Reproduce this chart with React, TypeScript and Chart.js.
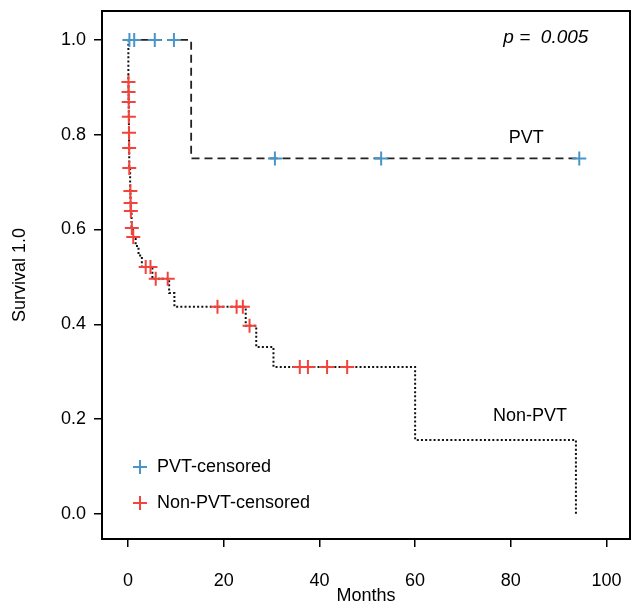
import React, { useEffect, useRef } from "react";
import { Chart, registerables } from "chart.js";

Chart.register(...registerables);

const FONT = '"Liberation Sans", Arial, Helvetica, sans-serif';

const xTicks = [0, 20, 40, 60, 80, 100];
const yTicks = [0, 0.2, 0.4, 0.6, 0.8, 1.0];

// PVT Kaplan-Meier step curve
const pvtTimes = [0, 13.2, 94.3];
const pvtSurv = [1.0, 0.75, 0.75];
const pvtCensorTimes = [0.3, 1.3, 5.6, 9.6, 30.7, 52.9, 94.3];
const pvtCensorSurv = [1, 1, 1, 1, 0.75, 0.75, 0.75];

// Non-PVT Kaplan-Meier step curve
const nonPvtTimes = [0, 0.08, 0.11, 0.14, 0.17, 0.2, 0.23, 0.26, 0.45, 0.52, 0.58, 0.75, 1.0, 1.6, 2.2, 2.9, 5.1, 8.6, 9.7, 24.6, 26.8, 30.4, 60.0, 93.6];
const nonPvtSurv = [1.0, 0.911, 0.89, 0.869, 0.838, 0.804, 0.772, 0.73, 0.681, 0.656, 0.639, 0.603, 0.584, 0.565, 0.545, 0.521, 0.496, 0.466, 0.437, 0.397, 0.352, 0.31, 0.156, 0.0];
const nonPvtCensorTimes = [0.1, 0.12, 0.15, 0.18, 0.21, 0.24, 0.27, 0.5, 0.55, 0.6, 0.8, 1.1, 3.7, 4.7, 5.8, 8.3, 18.7, 22.7, 24.0, 25.4, 35.9, 37.6, 41.6, 45.8];
const nonPvtCensorSurv = [0.911, 0.89, 0.869, 0.838, 0.804, 0.772, 0.73, 0.681, 0.656, 0.639, 0.603, 0.584, 0.521, 0.521, 0.496, 0.496, 0.437, 0.437, 0.437, 0.397, 0.31, 0.31, 0.31, 0.31];

const pValueText = "p =  0.005";
const pValuePos = [96.2, 1.004];
const pvtLabel = "PVT";
const pvtLabelPos = [83.2, 0.793];
const nonPvtLabel = "Non-PVT";
const nonPvtLabelPos = [84.0, 0.207];
const legendLabels = ["PVT-censored", "Non-PVT-censored"];
const xTitle = "Months";
const yTitle = "Survival 1.0";

const BLUE = "#4a94c8";
const RED = "#f2443b";

const toPoints = (xs: number[], ys: number[]) => xs.map((x, i) => ({ x, y: ys[i] }));

const overlayPlugin = {
  id: "overlay",
  afterDraw(chart: any) {
    const { ctx, chartArea, scales } = chart;
    const { left, top, right, bottom } = chartArea;
    ctx.save();
    ctx.strokeStyle = "#000";
    ctx.lineWidth = 2;
    ctx.strokeRect(left, top, right - left, bottom - top);

    ctx.fillStyle = "#000";
    ctx.textBaseline = "middle";
    ctx.font = `italic 19px ${FONT}`;
    ctx.textAlign = "right";
    ctx.fillText(pValueText, scales.x.getPixelForValue(pValuePos[0]), scales.y.getPixelForValue(pValuePos[1]));
    ctx.font = `18px ${FONT}`;
    ctx.textAlign = "center";
    ctx.fillText(pvtLabel, scales.x.getPixelForValue(pvtLabelPos[0]), scales.y.getPixelForValue(pvtLabelPos[1]));
    ctx.fillText(nonPvtLabel, scales.x.getPixelForValue(nonPvtLabelPos[0]), scales.y.getPixelForValue(nonPvtLabelPos[1]));

    const colors = [BLUE, RED];
    legendLabels.forEach((lab, i) => {
      const cy = bottom - 72 + i * 36;
      const cx = left + 38;
      ctx.strokeStyle = colors[i];
      ctx.lineWidth = 2;
      ctx.beginPath();
      ctx.moveTo(cx - 7, cy);
      ctx.lineTo(cx + 7, cy);
      ctx.moveTo(cx, cy - 7);
      ctx.lineTo(cx, cy + 7);
      ctx.stroke();
      ctx.fillStyle = "#000";
      ctx.textAlign = "left";
      ctx.fillText(lab, cx + 17, cy);
    });
    ctx.restore();
  },
};

const zeroPad = (s: any) => {
  s.paddingLeft = 0;
  s.paddingRight = 0;
  s.paddingTop = 0;
  s.paddingBottom = 0;
};

export default function App() {
  const ref = useRef<HTMLCanvasElement | null>(null);
  useEffect(() => {
    document.body.style.margin = "0";
    document.body.style.background = "#fff";
    if (!ref.current) return;
    const chart = new Chart(ref.current, {
      type: "scatter",
      data: {
        datasets: [
          {
            label: "PVT-censored",
            data: toPoints(pvtCensorTimes, pvtCensorSurv),
            showLine: false,
            pointStyle: "cross",
            pointRadius: 7,
            pointHoverRadius: 7,
            pointBorderWidth: 2,
            pointBorderColor: BLUE,
            pointBackgroundColor: BLUE,
            order: 0,
          },
          {
            label: "Non-PVT-censored",
            data: toPoints(nonPvtCensorTimes, nonPvtCensorSurv),
            showLine: false,
            pointStyle: "cross",
            pointRadius: 7,
            pointHoverRadius: 7,
            pointBorderWidth: 2,
            pointBorderColor: RED,
            pointBackgroundColor: RED,
            order: 0,
          },
          {
            label: "PVT",
            data: toPoints(pvtTimes, pvtSurv),
            showLine: true,
            stepped: true,
            borderColor: "#222",
            borderWidth: 1.8,
            borderDash: [8, 5],
            pointRadius: 0,
            fill: false,
            order: 1,
          },
          {
            label: "Non-PVT",
            data: toPoints(nonPvtTimes, nonPvtSurv),
            showLine: true,
            stepped: true,
            borderColor: "#111",
            borderWidth: 2,
            borderDash: [2, 2.2],
            pointRadius: 0,
            fill: false,
            order: 1,
          },
        ],
      },
      options: {
        responsive: false,
        animation: false,
        devicePixelRatio: 1,
        layout: { autoPadding: false, padding: { top: 11, right: 1, left: 0, bottom: 0 } },
        plugins: { legend: { display: false }, tooltip: { enabled: false } },
        events: [],
        scales: {
          x: {
            type: "linear",
            min: -5.43,
            max: 104.9,
            afterBuildTicks: (s: any) => {
              s.ticks = xTicks.map((v) => ({ value: v }));
            },
            afterFit: (s: any) => {
              s.height = 68;
              zeroPad(s);
            },
            grid: { display: true, drawOnChartArea: false, drawTicks: true, tickLength: 8, color: "#000", lineWidth: 1.5 },
            border: { display: false },
            ticks: {
              color: "#000",
              font: { size: 18, family: FONT },
              padding: 23,
              maxRotation: 0,
              autoSkip: false,
              callback: (v: any) => String(v),
            },
            title: { display: true, text: xTitle, color: "#000", font: { size: 18, family: FONT }, padding: { top: 0, bottom: 0 } },
          },
          y: {
            type: "linear",
            min: -0.053,
            max: 1.061,
            afterBuildTicks: (s: any) => {
              s.ticks = yTicks.map((v) => ({ value: v }));
            },
            afterFit: (s: any) => {
              s.width = 102;
              zeroPad(s);
            },
            grid: { display: true, drawOnChartArea: false, drawTicks: true, tickLength: 8, color: "#000", lineWidth: 1.5 },
            border: { display: false },
            ticks: {
              color: "#000",
              font: { size: 18, family: FONT },
              padding: 8,
              autoSkip: false,
              callback: (v: any) => Number(v).toFixed(1),
            },
            title: { display: true, text: yTitle, color: "#000", font: { size: 18, family: FONT }, padding: { top: 9, bottom: 0 } },
          },
        },
      },
      plugins: [overlayPlugin],
    } as any);
    return () => chart.destroy();
  }, []);
  return <canvas ref={ref} width={631} height={607} style={{ display: "block" }} />;
}
